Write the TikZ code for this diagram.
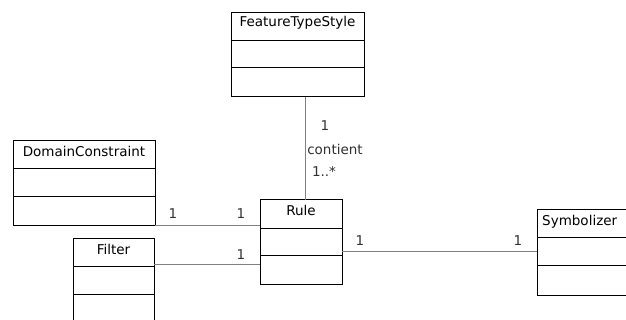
\documentclass[tikz,border=0pt]{standalone}
\usepackage{fontspec}
\setmainfont{DejaVu Sans}
\usetikzlibrary{calc}
\definecolor{conn}{HTML}{808080}
\definecolor{lbl}{HTML}{303030}
\tikzset{
  umlbox/.style={draw=black, line width=1pt, rectangle, anchor=north west, inner sep=0pt, outer sep=0pt},
  divider/.style={draw=black, line width=1pt},
  conline/.style={draw=conn, line width=1pt},
  title/.style={anchor=base, inner sep=0pt, font=\fontsize{13.5}{15}\selectfont, text=black},
  mult/.style={anchor=base, inner sep=0pt, font=\fontsize{13.5}{15}\selectfont, text=lbl},
}
\begin{document}
\begin{tikzpicture}[x=1pt, y=-1pt]
\useasboundingbox (0,0) rectangle (626,320);
\clip (0,0) rectangle (626,320);
% classes
\node[umlbox, minimum width=133pt, minimum height=84pt] (fts) at (231,13) {};
\draw[divider] (231,41) -- (364,41);
\draw[divider] (231,68) -- (364,68);
\node[title] (ftsT) at (297.5,27) {FeatureTypeStyle};

\node[umlbox, minimum width=142pt, minimum height=85pt] (dc) at (13,141) {};
\draw[divider] (13,169) -- (155,169);
\draw[divider] (13,197) -- (155,197);
\node[title] (dcT) at (84,156.5) {DomainConstraint};

\node[umlbox, minimum width=81pt, minimum height=90pt] (filter) at (73,239) {};
\draw[divider] (73,267) -- (154,267);
\draw[divider] (73,294) -- (154,294);
\node[title] (filterT) at (113.5,254.5) {Filter};

\node[umlbox, minimum width=82pt, minimum height=84pt] (rule) at (260,200) {};
\draw[divider] (260,229) -- (342,229);
\draw[divider] (260,256) -- (342,256);
\node[title] (ruleT) at (301,215.5) {Rule};

\node[umlbox, minimum width=100pt, minimum height=85pt] (symb) at (537,210) {};
\draw[divider] (537,238) -- (637,238);
\draw[divider] (537,266) -- (637,266);
\node[anchor=base west, inner sep=0pt, font=\fontsize{13.5}{15}\selectfont] (symbT) at (542,225.5) {Symbolizer};

% connectors
\draw[conline] ($(fts.south west)+(74,0)$) -- ($(rule.north west)+(45,0)$);
\draw[conline] (dc.south east) -- (dc.south east -| rule.west);
\draw[conline] ($(filter.north east)+(0,26)$) -- ($(rule.north west)+(0,65)$);
\draw[conline] ($(rule.north east)+(0,52)$) -- ($(symb.north west)+(0,42)$);

% multiplicities
\node[mult] (m1) at (173,218.5) {1};
\node[mult] (m2) at (241,218.5) {1};
\node[mult] (m3) at (241,259.5) {1};
\node[mult] (m4) at (360,245.5) {1};
\node[mult] (m5) at (518,245.5) {1};
\node[mult] (m6) at (325,130.5) {1};
\node[mult] (m7) at (335,154.5) {contient};
\node[mult] (m8) at (324,176.5) {1..*};
\end{tikzpicture}
\end{document}
